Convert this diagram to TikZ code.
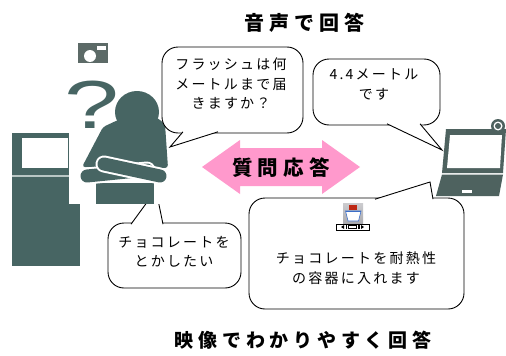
\documentclass[tikz,border=0pt]{standalone}
\usepackage{fontspec}
\newfontfamily\jp{Noto Sans CJK JP}[LetterSpace=16]
\newfontfamily\jptitle{Noto Sans CJK JP}[LetterSpace=25]
\newfontfamily\qfont{Liberation Sans}
\usetikzlibrary{calc}

\definecolor{figteal}{RGB}{71,101,99}
\definecolor{pcteal}{RGB}{78,98,95}
\definecolor{camgrey}{RGB}{92,106,103}
\definecolor{arrowpink}{RGB}{255,153,204}
\definecolor{kioskline}{RGB}{185,198,196}
\definecolor{iconbg}{RGB}{170,170,175}
\definecolor{bowlblue}{RGB}{60,110,200}
\definecolor{lidred}{RGB}{190,40,20}

\tikzset{
  bubble/.style={draw=black, line width=0.9pt, fill=white, rounded corners=16pt, inner sep=0pt},
  tailfill/.style={fill=white},
  tailline/.style={draw=black, line width=0.9pt, line join=miter},
  msg/.style={font=\jp\fontsize{14}{19.5}\selectfont, align=center, inner sep=0pt},
  headline/.style={font=\jptitle\bfseries\fontsize{20}{24}\selectfont, inner sep=0pt},
  qamark/.style={font=\jptitle\bfseries\fontsize{20.5}{24}\selectfont, inner sep=0pt},
  figure/.style={fill=figteal},
  armbar/.style={line width=13pt, line cap=round, draw=figteal},
  armedge/.style={line width=17pt, line cap=round, draw=white},
}

\begin{document}
\begin{tikzpicture}[x=1pt, y=-1pt]
\useasboundingbox (0,0) rectangle (506,356);
\fill[white] (0,0) rectangle (506,356);

% ---------- headings ----------
\node[headline] (voice) at (304,23) {音声で回答};
\node[headline, font=\jptitle\bfseries\fontsize{19}{23}\selectfont] (video) at (303,340) {映像でわかりやすく回答};

% ---------- kiosk terminal ----------
\fill[figure] (12,133) rectangle (80,266);
\fill[white] (22,138) rectangle (68,168);
\draw[kioskline, line width=1.6pt] (12,176) -- (69,176);

% ---------- bubble: user's request ----------
\node[bubble, minimum width=133pt, minimum height=65pt] (ask2) at (174.5,255.5) {};
\coordinate (ask2tip) at (156,190);
\coordinate (ask2a) at (131,224.2);
\coordinate (ask2b) at (163,224.2);
\fill[tailfill] (ask2a) -- (ask2tip) -- (ask2b) -- cycle;
\draw[tailline] (ask2a) -- (ask2tip) -- (ask2b);

% ---------- person with question mark ----------
\fill[white] (69,38) rectangle (171,204);
\fill[figure, rounded corners=3pt] (118,120) -- (103,127) -- (82,167) -- (168,168) -- (165,124) -- (156,117) -- cycle;
\fill[figure] (137,112) ellipse [x radius=22pt, y radius=21pt];
\fill[figure] (96,183) rectangle (154,204);
\draw[armedge] (87,176) -- (147,170);
\draw[armbar]  (87,176) -- (147,170);
\draw[armedge] (104,164) -- (160,176);
\draw[armbar]  (104,164) -- (160,176);

\node[inner sep=0pt, text=figteal, font=\qfont\fontsize{68}{68}\selectfont] (qmark) at (92,105) {\scalebox{1.45}[1]{?}};

% camera icon
\fill[camgrey] (78,43) rectangle (108,63);
\fill[white] (90,56) circle (6pt);
\fill[white] (97,45.5) rectangle (106,49.5);

% ---------- bubble: flash question ----------
\node[bubble, minimum width=141pt, minimum height=86pt] (ask1) at (232.5,90) {};
\coordinate (ask1tip) at (170,147);
\coordinate (ask1a) at (183,131.8);
\coordinate (ask1b) at (218,131.8);
\fill[tailfill] (ask1a) -- (ask1tip) -- (ask1b) -- cycle;
\draw[tailline] (ask1a) -- (ask1tip) -- (ask1b);
\node[msg] (ask1text) at (231,84) {フラッシュは何\\メートルまで届\\きますか？};

% ---------- bubble: spoken answer ----------
\node[bubble, minimum width=127pt, minimum height=66pt] (ans1) at (376.5,92) {};
\coordinate (ans1tip) at (442,150);
\coordinate (ans1a) at (387,123.8);
\coordinate (ans1b) at (420,123.8);
\fill[tailfill] (ans1a) -- (ans1tip) -- (ans1b) -- cycle;
\draw[tailline] (ans1a) -- (ans1tip) -- (ans1b);
\node[msg] (ans1text) at (374,84.5) {4.4メートル\\です};

% ---------- two-way arrow ----------
\fill[arrowpink] (202,167) -- (240,140) -- (240,148) -- (322,148) -- (322,140)
  -- (360,167) -- (322,194) -- (322,186) -- (240,186) -- (240,194) -- cycle;
\node[qamark] (qa) at (281,168) {質問応答};

% ---------- bubble: video answer ----------
\node[bubble, minimum width=215pt, minimum height=111pt] (ans2) at (356.5,253.5) {};
\coordinate (ans2tip) at (430,182);
\coordinate (ans2a) at (375,199.2);
\coordinate (ans2b) at (433,199.2);
\fill[tailfill] (ans2a) -- (ans2tip) -- (ans2b) -- cycle;
\draw[tailline] (ans2a) -- (ans2tip) -- (ans2b);
\node[msg] (ans2text) at (356,268) {チョコレートを耐熱性\\の容器に入れます};

% video thumbnail icon
\shade[top color=iconbg!60, bottom color=iconbg] (343,203) rectangle (363,223);
\fill[white, draw=bowlblue, line width=0.6pt] (345.5,211) -- (361,211) -- (358.5,221) -- (348,221) -- cycle;
\fill[lidred] (349,204.5) rectangle (356.5,210);
\draw[bowlblue, line width=0.6pt] (345.5,211) -- (361,211);
\fill[white, draw=black, line width=0.6pt] (336,224) rectangle (369,230);
\fill[black] (341,227) -- (344,225) -- (344,229) -- cycle;
\fill[black] (345.5,225) rectangle (347,229);
\draw[black, line width=0.5pt] (348.5,225.3) rectangle (356.5,228.7);
\fill[black] (358,225) rectangle (359.5,229);
\fill[black] (364,227) -- (361,225) -- (361,229) -- cycle;

% ---------- laptop ----------
\fill[pcteal] (446,129) -- (506,129) -- (503,173) -- (442,173) -- cycle;
\fill[white] (450,135) -- (502,135) -- (500,168) -- (447,168) -- cycle;
\fill[pcteal] (442,174.5) -- (503,174.5) -- (499,196) -- (436,196) -- cycle;
\fill[white] (462,190) rectangle (472,193);
\fill[pcteal] (498,126) circle (7pt);
\fill[white] (498,126) circle (4.5pt);
\fill[pcteal] (498,126) circle (3pt);

% ---------- user's text ----------
\node[msg] (ask2text) at (174,252) {チョコレートを\\とかしたい};
\end{tikzpicture}
\end{document}
